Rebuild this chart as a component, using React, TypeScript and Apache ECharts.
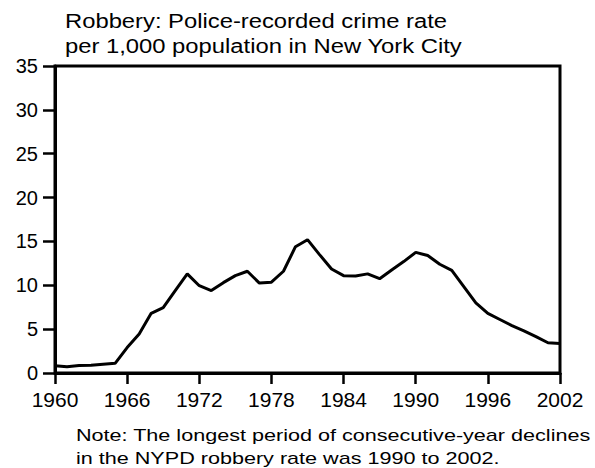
import React, { useEffect, useRef } from "react";
import * as echarts from "echarts";

// Years shown on the horizontal axis (one point per year)
const years: string[] = [];
for (let y = 1960; y <= 2002; y++) years.push(String(y));

// Robbery rate per 1,000 population, New York City, 1960–2002
const robberyRate: number[] = [
  0.83, 0.72, 0.85, 0.88, 1.0, 1.1, 2.9, 4.45, 6.8, 7.45,
  9.4, 11.3, 9.95, 9.4, 10.3, 11.1, 11.6, 10.25, 10.35, 11.6,
  14.4, 15.2, 13.5, 11.85, 11.1, 11.05, 11.3, 10.75, 11.75, 12.7,
  13.75, 13.4, 12.4, 11.7, 9.85, 8.0, 6.8, 6.1, 5.4, 4.8,
  4.15, 3.45, 3.35,
];

const titleLines = [
  "Robbery: Police-recorded crime rate",
  "per 1,000 population in New York City",
];
const noteLines = [
  "Note: The longest period of consecutive-year declines",
  "in the NYPD robbery rate was 1990 to 2002.",
];

const FONT = "'Liberation Sans', Arial, Helvetica, sans-serif";

export default function App() {
  const ref = useRef<HTMLDivElement>(null);

  useEffect(() => {
    if (!ref.current) return;
    const chart = echarts.init(ref.current, undefined, { renderer: "svg" });

    const textEl = (txt: string, x: number, y: number, size: number, sx: number) => ({
      type: "text",
      x,
      y,
      scaleX: sx,
      style: {
        text: txt,
        fontFamily: FONT,
        fontSize: size,
        fill: "#000",
        align: "left",
        verticalAlign: "middle",
      },
    });

    chart.setOption({
      animation: false,
      backgroundColor: "#fff",
      textStyle: { fontFamily: FONT },
      grid: {
        left: 55,
        right: 35,
        top: 66,
        bottom: 95,
        show: true,
        borderColor: "#000",
        borderWidth: 3,
      },
      xAxis: {
        type: "category",
        data: years,
        boundaryGap: false,
        axisLine: { lineStyle: { color: "#000", width: 3 } },
        axisTick: { interval: 5, length: 11, lineStyle: { color: "#000", width: 2.5 } },
        axisLabel: { interval: 5, color: "#000", fontSize: 21, margin: 16, fontFamily: FONT },
        splitLine: { show: false },
      },
      yAxis: {
        type: "value",
        min: 0,
        max: 35,
        interval: 5,
        axisLine: { show: true, lineStyle: { color: "#000", width: 3 } },
        axisTick: { show: true, length: 12, lineStyle: { color: "#000", width: 2.5 } },
        axisLabel: { color: "#000", fontSize: 20, margin: 17, fontFamily: FONT },
        splitLine: { show: false },
      },
      series: [
        {
          type: "line",
          data: robberyRate,
          showSymbol: false,
          symbol: "none",
          lineStyle: { color: "#000", width: 3 },
        },
      ],
      graphic: [
        textEl(titleLines[0], 65, 21.5, 20, 1.19),
        textEl(titleLines[1], 65, 46, 20, 1.19),
        textEl(noteLines[0], 76, 435, 17, 1.27),
        textEl(noteLines[1], 76, 458, 17, 1.27),
      ],
    });

    return () => chart.dispose();
  }, []);

  return (
    <div
      ref={ref}
      style={{ position: "absolute", left: 0, top: 0, width: 595, height: 468 }}
    />
  );
}
